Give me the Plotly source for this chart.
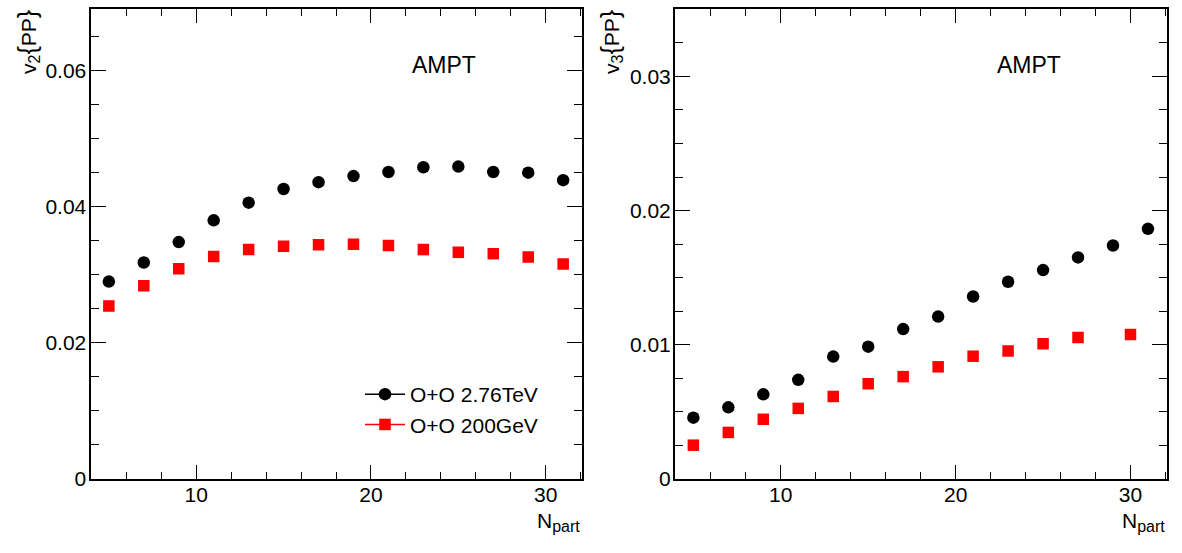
import plotly.graph_objects as go

# ---------------- data ----------------
npart_v2 = [5, 7, 9, 11, 13, 15, 17, 19, 21, 23, 25, 27, 29, 31]
v2_oo276 = [0.0290, 0.0318, 0.0348, 0.0380, 0.0406, 0.0426, 0.0436, 0.0445,
            0.0451, 0.0458, 0.0459, 0.0451, 0.0450, 0.0439]
v2_oo200 = [0.0254, 0.0284, 0.0309, 0.0327, 0.0337, 0.0342, 0.0344, 0.0345,
            0.0343, 0.0337, 0.0333, 0.0331, 0.0326, 0.0316]

npart_v3_276 = [5, 7, 9, 11, 13, 15, 17, 19, 21, 23, 25, 27, 29, 31]
v3_oo276 = [0.00457, 0.00534, 0.00631, 0.00739, 0.00912, 0.00986, 0.01117,
            0.01210, 0.01360, 0.01470, 0.01557, 0.01651, 0.01740, 0.01864]
npart_v3_200 = [5, 7, 9, 11, 13, 15, 17, 19, 21, 23, 25, 27, 30]
v3_oo200 = [0.00252, 0.00347, 0.00445, 0.00526, 0.00615, 0.00710, 0.00763,
            0.00836, 0.00915, 0.00954, 0.01007, 0.01055, 0.01077]

label_276 = "O+O 2.76TeV"
label_200 = "O+O 200GeV"

W, H = 1182, 553
FONT = "Liberation Sans, Arial, Helvetica, sans-serif"
BLACK = "#000000"
RED = "#ff0000"

fig = go.Figure()

# data traces (markers only)
fig.add_trace(go.Scatter(x=npart_v2, y=v2_oo276, mode="markers", showlegend=False,
                         marker=dict(symbol="circle", size=12.5, color=BLACK),
                         xaxis="x", yaxis="y"))
fig.add_trace(go.Scatter(x=npart_v2, y=v2_oo200, mode="markers", showlegend=False,
                         marker=dict(symbol="square", size=11.5, color=RED),
                         xaxis="x", yaxis="y"))
fig.add_trace(go.Scatter(x=npart_v3_276, y=v3_oo276, mode="markers", showlegend=False,
                         marker=dict(symbol="circle", size=12.5, color=BLACK),
                         xaxis="x2", yaxis="y2"))
fig.add_trace(go.Scatter(x=npart_v3_200, y=v3_oo200, mode="markers", showlegend=False,
                         marker=dict(symbol="square", size=11.5, color=RED),
                         xaxis="x2", yaxis="y2"))

# legend entries (line + marker, as in the ROOT legend)
fig.add_trace(go.Scatter(x=[None], y=[None], mode="lines+markers", name=label_276,
                         legendgroup="a",
                         line=dict(color=BLACK, width=1.5),
                         marker=dict(symbol="circle", size=12.5, color=BLACK),
                         xaxis="x", yaxis="y"))
fig.add_trace(go.Scatter(x=[None], y=[None], mode="lines+markers", name=label_200,
                         legendgroup="b",
                         line=dict(color=RED, width=1.5),
                         marker=dict(symbol="square", size=11.5, color=RED),
                         xaxis="x", yaxis="y"))

ytop = 1 - 9.3 / H
ybot = 1 - 479 / H

TICKSIZE = 21

common_x = dict(
    range=[3.95, 32.06], tickmode="linear", tick0=0, dtick=10,
    ticks="inside", ticklen=14, tickwidth=1.3, tickcolor=BLACK,
    minor=dict(ticks="inside", ticklen=7, dtick=2, tickwidth=1.1, tickcolor=BLACK, showgrid=False),
    showline=True, linewidth=2, linecolor=BLACK, mirror="ticks",
    showgrid=False, zeroline=False, automargin=False,
    ticklabelstandoff=-4,
    tickfont=dict(family=FONT, size=TICKSIZE, color=BLACK),
)
common_y = dict(
    tickmode="linear", tick0=0,
    ticks="inside", ticklen=15, tickwidth=1.3, tickcolor=BLACK,
    showline=True, linewidth=2, linecolor=BLACK, mirror="ticks",
    showgrid=False, zeroline=False, automargin=False,
    ticklabelstandoff=-2,
    tickfont=dict(family=FONT, size=TICKSIZE, color=BLACK),
)

fig.update_layout(
    width=W, height=H,
    margin=dict(l=0, r=0, t=0, b=0, autoexpand=False),
    paper_bgcolor="white", plot_bgcolor="white",
    font=dict(family=FONT, color=BLACK),
    xaxis=dict(domain=[90.5 / W, 581.7 / W], anchor="y", **common_x),
    yaxis=dict(domain=[ybot, ytop], anchor="x", range=[0, 0.069], dtick=0.02,
               minor=dict(ticks="inside", ticklen=8, dtick=0.005, tickwidth=1.1,
                          tickcolor=BLACK, showgrid=False),
               **common_y),
    xaxis2=dict(domain=[675 / W, 1166.5 / W], anchor="y2", **common_x),
    yaxis2=dict(domain=[ybot, ytop], anchor="x2", range=[0, 0.035], dtick=0.01,
                minor=dict(ticks="inside", ticklen=8, dtick=0.0025, tickwidth=1.1,
                           tickcolor=BLACK, showgrid=False),
                **common_y),
    legend=dict(x=360 / W, y=1 - 374 / H, xanchor="left", yanchor="top",
                bgcolor="rgba(0,0,0,0)", borderwidth=0,
                font=dict(family=FONT, size=21, color=BLACK),
                traceorder="grouped", tracegroupgap=0, itemwidth=40),
)

ann = []
# AMPT labels
ann.append(dict(text="AMPT", x=444 / W, y=1 - 65 / H, xref="paper", yref="paper",
                xanchor="center", yanchor="middle", showarrow=False,
                font=dict(family=FONT, size=23, color=BLACK)))
ann.append(dict(text="AMPT", x=1028.5 / W, y=1 - 65 / H, xref="paper", yref="paper",
                xanchor="center", yanchor="middle", showarrow=False,
                font=dict(family=FONT, size=23, color=BLACK)))
# x titles
for xr in (582, 1167):
    ann.append(dict(text="N<sub><span style='font-size:16px'>part</span></sub>", x=xr / W, y=1 - 507 / H,
                    xref="paper", yref="paper",
                    xanchor="right", yanchor="top", showarrow=False,
                    font=dict(family=FONT, size=21, color=BLACK)))
# y titles
BR_L = "<span style='font-size:25px'>{</span>"
BR_R = "<span style='font-size:25px'>}</span>"
ann.append(dict(text="v<sub><span style='font-size:16px'>2</span></sub>" + BR_L + "PP" + BR_R,
                x=28 / W, y=1 - 8 / H, xref="paper", yref="paper",
                xanchor="center", yanchor="top", textangle=-90, showarrow=False,
                font=dict(family=FONT, size=21, color=BLACK)))
ann.append(dict(text="v<sub><span style='font-size:16px'>3</span></sub>" + BR_L + "PP" + BR_R,
                x=611 / W, y=1 - 8 / H, xref="paper", yref="paper",
                xanchor="center", yanchor="top", textangle=-90, showarrow=False,
                font=dict(family=FONT, size=21, color=BLACK)))
fig.update_layout(annotations=ann)

fig.write_html("out.html")
